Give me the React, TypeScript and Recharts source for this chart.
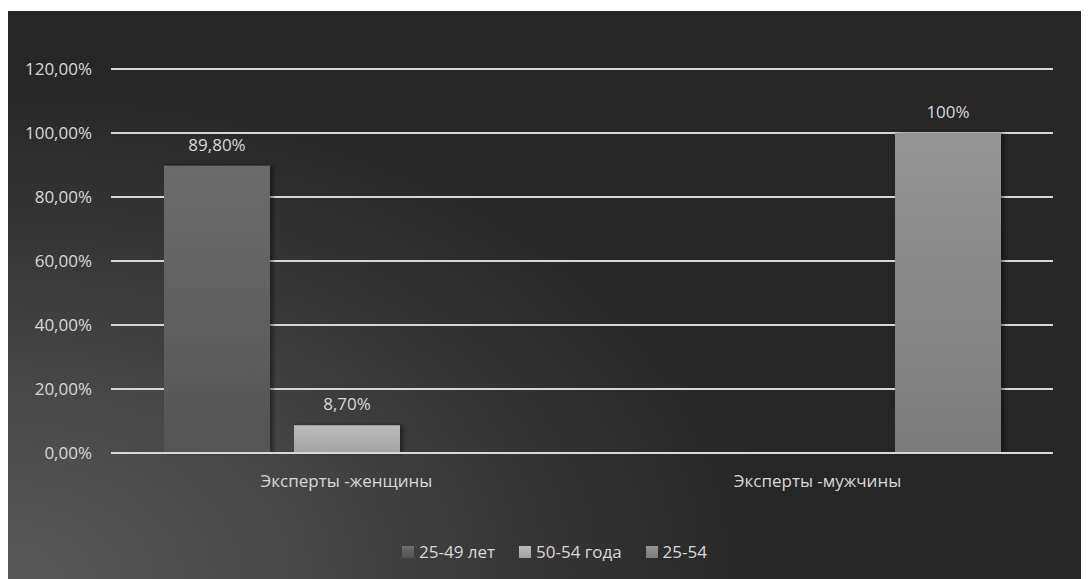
import { BarChart, Bar, XAxis, YAxis, CartesianGrid, Legend, LabelList } from 'recharts'

const categories = ['Эксперты -женщины', 'Эксперты -мужчины']
const age2549 = [0.898, null]
const age5054 = [0.087, null]
const age2554 = [null, 1.0]
const labels2549 = ['89,80%', '']
const labels5054 = ['8,70%', '']
const labels2554 = ['', '100%']
const yTicks = [0, 0.2, 0.4, 0.6, 0.8, 1.0, 1.2]

const series = [
  { key: 'a', name: '25-49 лет', values: age2549, labels: labels2549, grad: 'gA' },
  { key: 'b', name: '50-54 года', values: age5054, labels: labels5054, grad: 'gB' },
  { key: 'c', name: '25-54', values: age2554, labels: labels2554, grad: 'gC' },
]

const data = categories.map((name, i) => {
  const row: Record<string, any> = { name }
  series.forEach((s) => {
    row[s.key] = s.values[i]
    row[s.key + 'Label'] = s.labels[i]
  })
  return row
})

const font = '"Open Sans", "Noto Sans", sans-serif'
const textColor = '#d9d9d9'
const fontSize = 17

const fmtPct = (v: number) => (v * 100).toFixed(2).replace('.', ',') + '%'

function LegendContent() {
  return (
    <div
      style={{
        display: 'flex',
        justifyContent: 'center',
        gap: 24,
        fontFamily: font,
        fontSize,
        lineHeight: '20px',
        color: textColor,
        paddingLeft: 48,
      }}
    >
      {series.map((s) => (
        <span key={s.key} style={{ display: 'flex', alignItems: 'center' }}>
          <svg width={12} height={12} style={{ marginRight: 5 }}>
            <rect width={12} height={12} fill={`url(#${s.grad})`} />
          </svg>
          {s.name}
        </span>
      ))}
    </div>
  )
}

export default function App() {
  return (
    <div
      style={{
        marginTop: 3,
        width: 1080,
        height: 568,
        background:
          'radial-gradient(ellipse 95% 120% at 0% 100%, #585858 0%, #4a4a4a 25%, #363636 50%, #262626 75%)',
      }}
    >
      <BarChart
        width={1080}
        height={568}
        data={data}
        margin={{ top: 58, right: 35, left: 0, bottom: 66 }}
        barSize={106}
        barGap={24}
      >
        <defs>
          <linearGradient id="gA" x1="0" y1="0" x2="0" y2="1">
            <stop offset="0%" stopColor="#6c6c6c" />
            <stop offset="100%" stopColor="#545454" />
          </linearGradient>
          <linearGradient id="gB" x1="0" y1="0" x2="0" y2="1">
            <stop offset="0%" stopColor="#bcbcbc" />
            <stop offset="100%" stopColor="#a2a2a2" />
          </linearGradient>
          <linearGradient id="gC" x1="0" y1="0" x2="0" y2="1">
            <stop offset="0%" stopColor="#949494" />
            <stop offset="100%" stopColor="#7c7c7c" />
          </linearGradient>
          <filter id="shadow" x="-10%" y="-10%" width="130%" height="120%">
            <feDropShadow dx="3" dy="0" stdDeviation="2" floodColor="#000" floodOpacity="0.45" />
          </filter>
        </defs>
        <CartesianGrid vertical={false} stroke="#d6d6d6" strokeWidth={2} />
        <XAxis
          dataKey="name"
          axisLine={{ stroke: '#d9d9d9', strokeWidth: 2 }}
          tickLine={false}
          tickMargin={16}
          height={40}
          tick={{ fill: textColor, fontSize, fontFamily: font }}
        />
        <YAxis
          domain={[0, 1.2]}
          ticks={yTicks}
          tickFormatter={fmtPct}
          axisLine={false}
          tickLine={false}
          tickSize={0}
          width={103}
          tickMargin={19}
          tick={{ fill: textColor, fontSize, fontFamily: font }}
        />
        <Legend verticalAlign="bottom" height={20} content={<LegendContent />} wrapperStyle={{ bottom: 17 }} />
        {series.map((s) => (
          <Bar
            key={s.key}
            dataKey={s.key}
            name={s.name}
            fill={`url(#${s.grad})`}
            filter="url(#shadow)"
            isAnimationActive={false}
          >
            <LabelList
              dataKey={s.key + 'Label'}
              position="top"
              offset={15}
              fill={textColor}
              fontSize={fontSize}
              fontFamily={font}
            />
          </Bar>
        ))}
      </BarChart>
    </div>
  )
}
